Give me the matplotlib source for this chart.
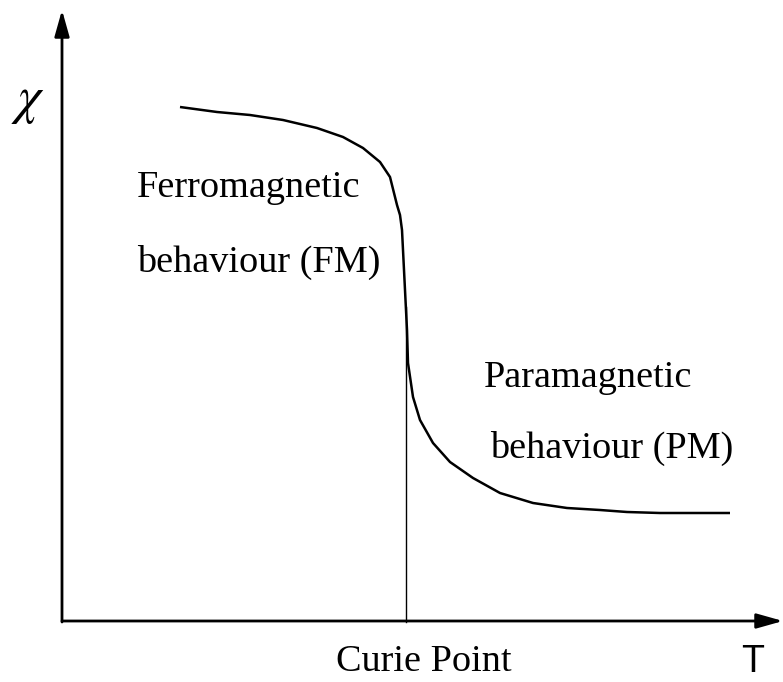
import matplotlib
matplotlib.use("Agg")
import matplotlib.pyplot as plt

# Susceptibility vs temperature sketch (arbitrary units, origin at the axes corner)
temperature = [118, 155, 188, 221, 255, 281, 301, 318, 328, 335, 338, 340, 341,
               342, 343, 344, 345, 346, 351, 358, 371, 388, 411, 438, 471, 505,
               538, 565, 598, 668]
susceptibility = [515, 510, 507, 502, 494, 485, 474, 460, 445, 417, 407, 392, 372,
                  352, 332, 312, 292, 259, 225, 202, 179, 160, 144, 129, 119, 114,
                  112, 110, 109, 109]
curie_point = 344
curie_top = 315

fig = plt.figure(figsize=(7.83, 6.82), dpi=100)
ax = fig.add_axes([0, 0, 1, 1])
ax.set_xlim(-62, 721)
ax.set_ylim(-60, 622)
ax.axis("off")

arrow = dict(arrowstyle="-|>,head_length=1.6,head_width=0.45", color="black",
             lw=2.0, shrinkA=0, shrinkB=0)
ax.annotate("", xy=(0, 612), xytext=(0, 0), arrowprops=arrow)
ax.annotate("", xy=(721, 1), xytext=(0, 1), arrowprops=arrow)

ax.plot(temperature, susceptibility, color="black", lw=1.8, solid_capstyle="butt",
        solid_joinstyle="round")
ax.plot([curie_point, curie_point], [0, curie_top], color="black", lw=1.0)

serif = ["Liberation Serif", "DejaVu Serif"]
ax.text(75, 434, "Ferromagnetic", family=serif, fontsize=27.5, va="center", ha="left")
ax.text(75, 360, "behaviour (FM)", family=serif, fontsize=27.5, va="center", ha="left")
ax.text(422, 244, "Paramagnetic", family=serif, fontsize=27.5, va="center", ha="left")
ax.text(428, 174, "behaviour (PM)", family=serif, fontsize=27.5, va="center", ha="left")
ax.text(362, -40, "Curie Point", family=serif, fontsize=27.5, va="center", ha="center")
ax.text(691, -40, "T", family=["Liberation Sans", "DejaVu Sans"], fontsize=27,
        va="center", ha="center")
ax.text(-34, 522, r"$\chi$", math_fontfamily="stix", fontsize=38, va="center",
        ha="center")

fig.savefig("out.png", dpi=100)
